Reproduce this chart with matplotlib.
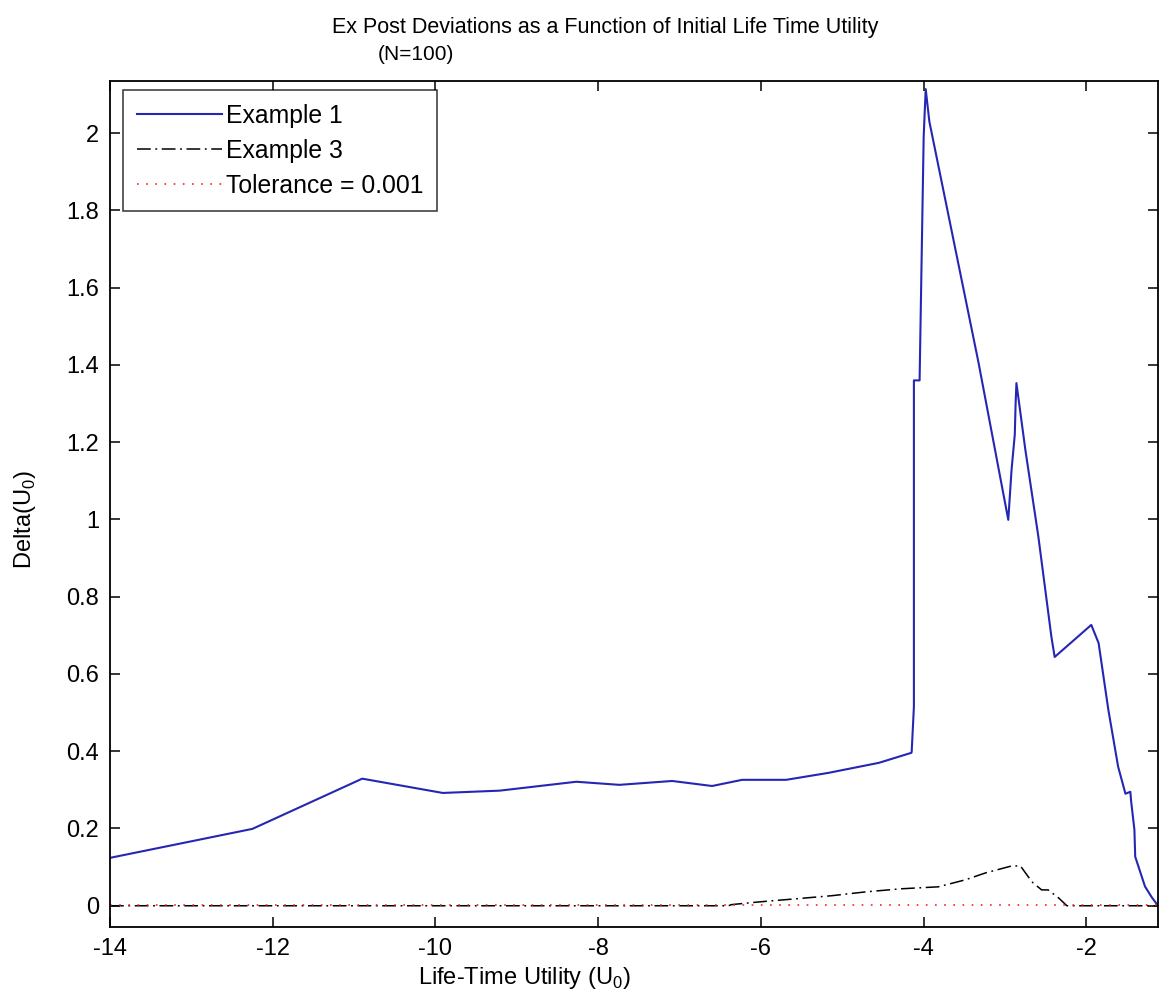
import matplotlib
matplotlib.use("Agg")
import matplotlib.pyplot as plt
from matplotlib.ticker import FormatStrFormatter, MultipleLocator

plt.rcParams['font.family'] = ['Liberation Sans', 'DejaVu Sans']
plt.rcParams['axes.unicode_minus'] = False

# Example 1 (blue solid)
ex1_x = [-14.0, -12.25, -10.90, -9.91, -9.21, -8.27, -7.74, -7.09, -6.60, -6.23,
         -5.69, -5.17, -4.55, -4.15, -4.147, -4.12, -4.12, -4.05, -4.0, -3.975,
         -3.93, -3.325, -2.96, -2.92, -2.88, -2.87, -2.86, -2.75, -2.59, -2.43,
         -2.39, -1.94, -1.85, -1.73, -1.61, -1.52, -1.46, -1.45, -1.41, -1.40,
         -1.28, -1.20, -1.13]
ex1_y = [0.124, 0.199, 0.329, 0.292, 0.298, 0.321, 0.313, 0.323, 0.310, 0.326,
         0.326, 0.344, 0.370, 0.396, 0.400, 0.515, 1.36, 1.36, 1.99, 2.114,
         2.03, 1.405, 0.999, 1.128, 1.22, 1.30, 1.353, 1.18, 0.955, 0.696,
         0.644, 0.727, 0.68, 0.507, 0.36, 0.29, 0.295, 0.27, 0.197, 0.127,
         0.05, 0.023, 0.003]

# Example 3 (black dash-dot)
ex3_x = [-14.0, -6.40, -6.36, -6.02, -5.57, -5.13, -4.71, -4.27, -3.82, -3.49,
         -3.24, -2.92, -2.81, -2.67, -2.55, -2.47, -2.34, -2.24, -1.12]
ex3_y = [0.0, 0.0, 0.003, 0.010, 0.018, 0.026, 0.036, 0.044, 0.049, 0.067,
         0.085, 0.103, 0.103, 0.062, 0.041, 0.041, 0.020, 0.0, 0.0]

# Tolerance (red dotted)
tol_x = [-14.0, -1.12]
tol_y = [0.001, 0.001]

xticks = [-14, -12, -10, -8, -6, -4, -2]

W, H = 1162, 1005
fig = plt.figure(figsize=(W / 100, H / 100), dpi=100)
ax = fig.add_axes([110 / W, 1 - 927 / H, (1158 - 110) / W, (927 - 81) / H])

ax.plot(ex1_x, ex1_y, color='#2626b4', lw=1.5, label='Example 1')
ax.plot(ex3_x, ex3_y, color='black', lw=1.1, linestyle=(0, (9, 3, 1.2, 3)), label='Example 3')
ax.plot(tol_x, tol_y, color='#ff2020', lw=1.2, linestyle=(0, (1, 4.5)), label='Tolerance = 0.001')

ax.set_xlim(-14, -1.12)
ax.set_ylim(-0.055, 2.135)
ax.set_xticks(xticks)
ax.yaxis.set_major_locator(MultipleLocator(0.2))
ax.yaxis.set_major_formatter(FormatStrFormatter('%g'))
ax.tick_params(direction='in', length=7, width=1.1, top=True, right=True,
               labelsize=17, pad=8)
for s in ax.spines.values():
    s.set_linewidth(1.3)

leg = ax.legend(loc='upper left', bbox_to_anchor=(13 / 1048, 1 - 9 / 846),
                fontsize=17.8, handlelength=3.45, handletextpad=0.15,
                borderaxespad=0, frameon=True, fancybox=False, labelspacing=0.45,
                borderpad=0.55)
leg.get_frame().set_edgecolor('black')
leg.get_frame().set_linewidth(1.1)

fig.text(605 / W, 1 - 27 / H, 'Ex Post Deviations as a Function of Initial Life Time Utility',
         ha='center', va='center', fontsize=15.5)
fig.text(416 / W, 1 - 54 / H, '(N=100)', ha='center', va='center', fontsize=15)
fig.text(524 / W, 1 - 978 / H, r'Life-Time Utility (U$_\mathregular{0}$)',
         ha='center', va='center', fontsize=17)
fig.text(25 / W, 1 - 520 / H, r'Delta(U$_\mathregular{0}$)', ha='center', va='center',
         rotation=90, fontsize=17)

fig.savefig('out.png', dpi=100)
